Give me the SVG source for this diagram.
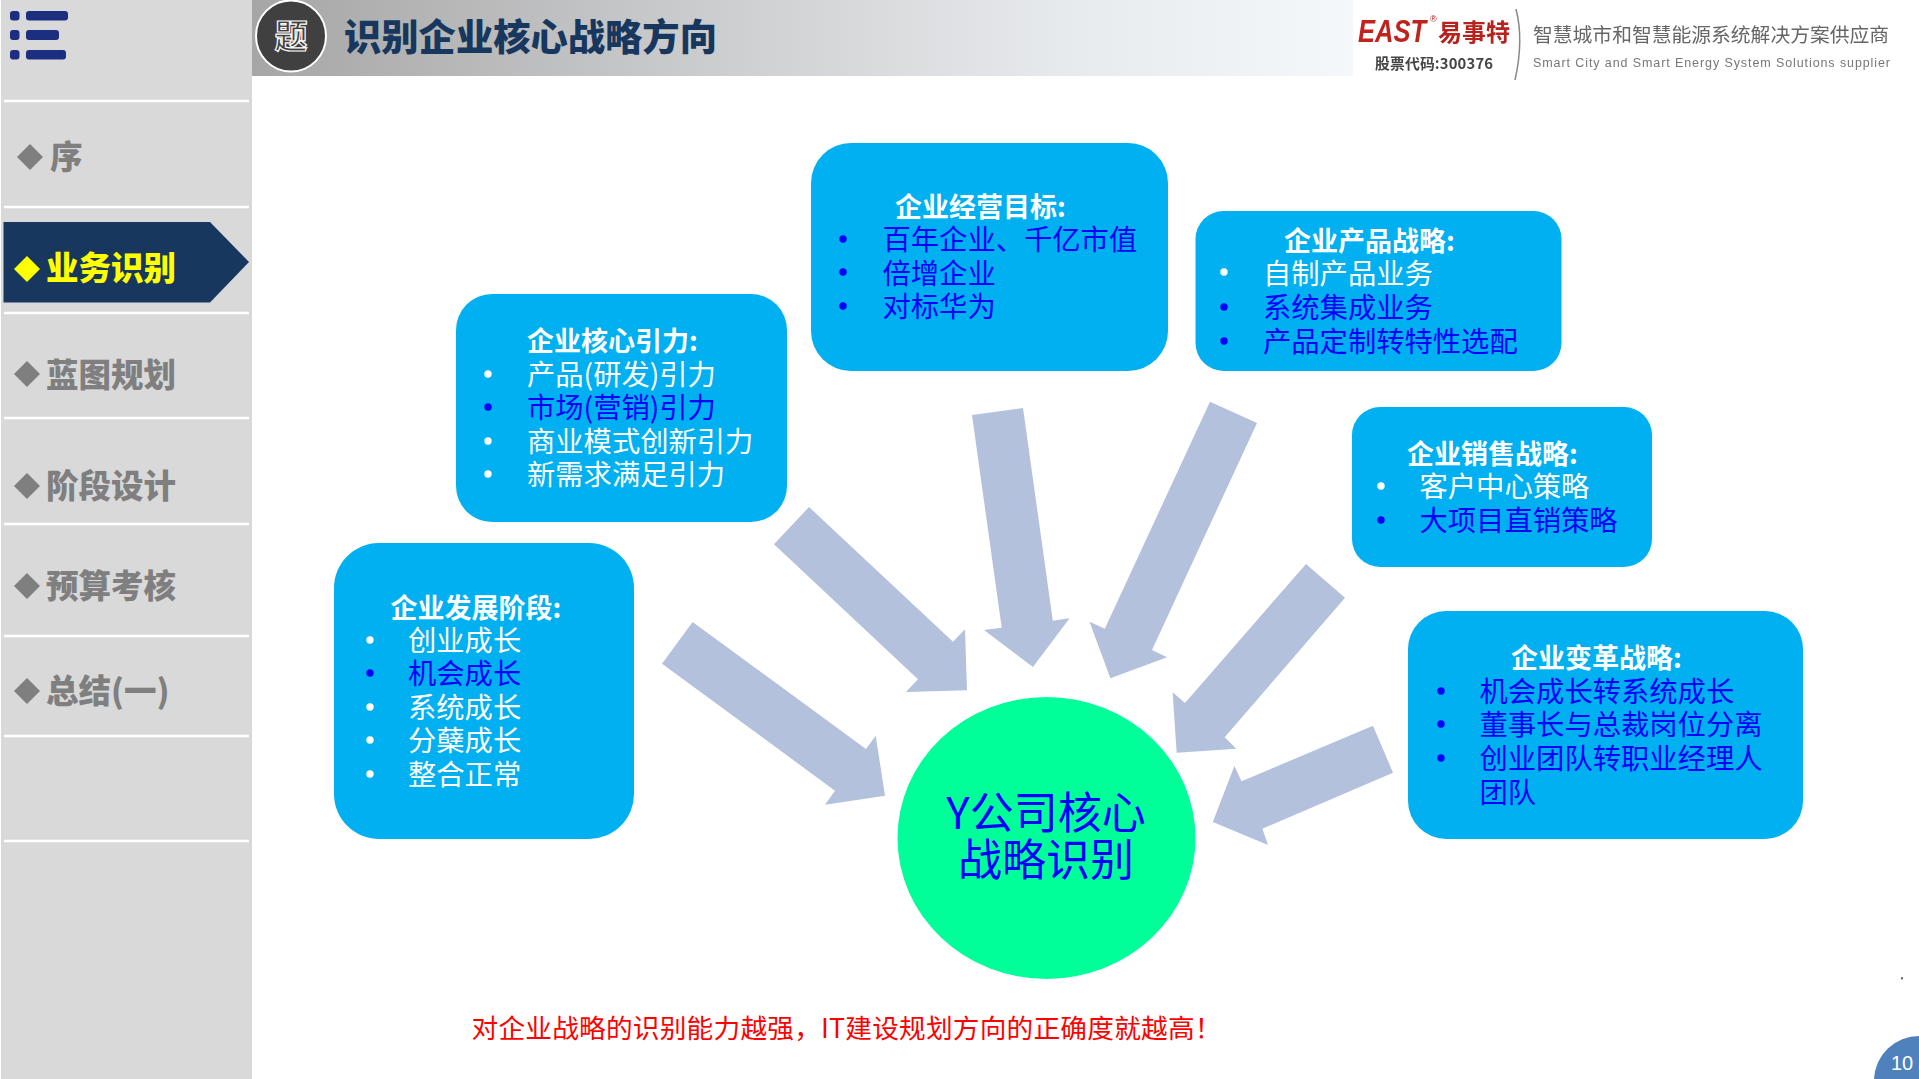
<svg xmlns="http://www.w3.org/2000/svg" width="1919" height="1079" viewBox="0 0 1919 1079">
<style>
text{font-family:"Noto Sans CJK SC","Noto Sans",sans-serif}
.box{fill:#00b0f0}
.t{font-size:27px;font-weight:700;fill:#fff}
.w{font-size:28.3px;fill:#fff}
.b{font-size:28.3px;fill:#00f}
.dw{fill:#fff}
.db{fill:#00f}
.nav{font-size:32.5px;font-weight:900;fill:#7f7f7f}
.dia{fill:#7f7f7f}
.sep{stroke:#fff;stroke-width:2.5}
.arrow{fill:#b3c1dc}
.menu{fill:#1c2e80}
</style>
<defs>
<linearGradient id="hdr" x1="0" x2="1" y1="0" y2="0"><stop offset="0" stop-color="#a6a6a6"/><stop offset=".46" stop-color="#d0d1d3"/><stop offset=".75" stop-color="#e8ebee"/><stop offset="1" stop-color="#f5f8fb"/></linearGradient>
<filter id="soft" x="-5%" y="-5%" width="110%" height="110%"><feGaussianBlur stdDeviation=".45"/></filter>
</defs>
<rect width="1919" height="1079" fill="#fff"/>
<g id="sidebar">
<rect x="1" width="251" height="1079" fill="#d9d9d9"/>
<g class="menu">
<rect x="10" y="11" width="9.5" height="9.5" rx="3"/><rect x="26" y="11" width="42" height="9.5" rx="3"/>
<rect x="10" y="30" width="9.5" height="10" rx="3"/><rect x="26" y="30" width="33" height="10" rx="3"/>
<rect x="10" y="50" width="9.5" height="9.5" rx="3"/><rect x="26" y="50" width="40" height="9.5" rx="3"/>
</g>
<g class="sep"><line x1="4" x2="249" y1="101" y2="101"/><line x1="4" x2="249" y1="207" y2="207"/><line x1="4" x2="249" y1="313" y2="313"/><line x1="4" x2="249" y1="418" y2="418"/><line x1="4" x2="249" y1="524" y2="524"/><line x1="4" x2="249" y1="636" y2="636"/><line x1="4" x2="249" y1="736" y2="736"/><line x1="4" x2="249" y1="841" y2="841"/></g>
<polygon points="3.5,222 210,222 249,262 210,302.5 3.5,302.5" fill="#17375e"/>
<polygon class="dia" points="30,144 43,157 30,170 17,157"/><text class="nav" x="50" y="169">序</text>
<polygon points="27,256 40,269 27,282 14,269" fill="#ff0"/><text class="nav" x="46" y="280" style="fill:#ff0">业务识别</text>
<polygon class="dia" points="27,361 40,374 27,387 14,374"/><text class="nav" x="46" y="387">蓝图规划</text>
<polygon class="dia" points="27,473 40,486 27,499 14,486"/><text class="nav" x="46" y="498">阶段设计</text>
<polygon class="dia" points="27,573 40,586 27,599 14,586"/><text class="nav" x="46" y="598">预算考核</text>
<polygon class="dia" points="27,678 40,691 27,704 14,691"/><text class="nav" x="46" y="703">总结(一)</text>
</g>
<g id="header">
<rect x="252" width="1101" height="76" fill="url(#hdr)"/>
<ellipse cx="291" cy="36" rx="35" ry="35.5" fill="#404040" stroke="#fff" stroke-width="2"/>
<text x="291" y="48" text-anchor="middle" font-size="33" font-weight="700" fill="#404040" stroke="#fff" stroke-width="1.2">题</text>
<text x="344" y="51" font-size="37.3" font-weight="900" fill="#17375e">识别企业核心战略方向</text>
</g>
<g id="logo" filter="url(#soft)">
<text x="1358" y="42" font-size="31" font-weight="900" font-style="italic" fill="#c0201c" textLength="68" lengthAdjust="spacingAndGlyphs" style="font-family:'Liberation Sans',sans-serif">EAST</text>
<text x="1430" y="22" font-size="9" fill="#c0201c" style="font-family:'Liberation Sans',sans-serif">®</text>
<text x="1438" y="41" font-size="24" font-weight="700" fill="#b8201c">易事特</text>
<text x="1375" y="69" font-size="14.8" font-weight="700" fill="#444" textLength="118">股票代码:300376</text>
<path d="M1516 9Q1524 40 1515 80" fill="none" stroke="#888" stroke-width="1.5"/>
<text x="1533" y="42" font-size="19.8" fill="#666">智慧城市和智慧能源系统解决方案供应商</text>
<text x="1533" y="67" font-size="12.5" fill="#777" textLength="357" style="font-family:'Liberation Sans',sans-serif">Smart City and Smart Energy System Solutions supplier</text>
</g>
<g id="connectors">
<polygon class="arrow" points="692.6,622 866,749 875.7,735.7 885,795.7 825,804.7 835,790.7 662,663.7"/>
<polygon class="arrow" points="809,507 953,641.7 965,629.3 967,690.3 906,692 918,679.3 774,544.3"/>
<polygon class="arrow" points="1023,408 1052.8,620.7 1069.6,618.3 1033,667 984,630 1001.7,627.7 972,415"/>
<polygon class="arrow" points="1257,423 1152,650 1167,657.3 1110.4,678.3 1089.5,621.7 1104.8,628.7 1210,401.7"/>
<polygon class="arrow" points="1345,597.7 1224.7,737.3 1236.4,748.7 1176.7,752.7 1172.6,692.3 1185,703 1306,564"/>
<polygon class="arrow" points="1393,772.7 1262.4,828.7 1268,845 1212.8,822 1234.4,766 1241.5,781.3 1373,725.7"/>
</g>
<g id="node-stage">
<rect class="box" x="334" y="543" width="300" height="296" rx="45"/>
<text class="t" x="390.5" y="617.5">企业发展阶段:</text>
<circle class="dw" cx="370" cy="640" r="3.7"/><text class="w" x="408" y="651">创业成长</text>
<circle class="db" cx="370" cy="673" r="3.7"/><text class="b" x="408" y="684">机会成长</text>
<circle class="dw" cx="370" cy="707" r="3.7"/><text class="w" x="408" y="718">系统成长</text>
<circle class="dw" cx="370" cy="740" r="3.7"/><text class="w" x="408" y="751">分蘖成长</text>
<circle class="dw" cx="370" cy="774" r="3.7"/><text class="w" x="408" y="785">整合正常</text>
</g>
<g id="node-core">
<rect class="box" x="456" y="294" width="331" height="228" rx="36"/>
<text class="t" x="527" y="351">企业核心引力:</text>
<circle class="dw" cx="488" cy="374" r="3.7"/><text class="w" x="527" y="385">产品(研发)引力</text>
<circle class="db" cx="488" cy="407" r="3.7"/><text class="b" x="527" y="418">市场(营销)引力</text>
<circle class="dw" cx="488" cy="441" r="3.7"/><text class="w" x="527" y="452">商业模式创新引力</text>
<circle class="dw" cx="488" cy="474" r="3.7"/><text class="w" x="527" y="485">新需求满足引力</text>
</g>
<g id="node-goal">
<rect class="box" x="811" y="143" width="357" height="228" rx="40"/>
<text class="t" x="895" y="217">企业经营目标:</text>
<circle class="db" cx="843" cy="239" r="3.7"/><text class="b" x="882.5" y="250">百年企业、千亿市值</text>
<circle class="db" cx="843" cy="272" r="3.7"/><text class="b" x="882.5" y="284">倍增企业</text>
<circle class="db" cx="843" cy="306" r="3.7"/><text class="b" x="882.5" y="317">对标华为</text>
</g>
<g id="node-product">
<rect class="box" x="1195.5" y="211" width="366" height="160" rx="28"/>
<text class="t" x="1284" y="251">企业产品战略:</text>
<circle class="dw" cx="1224" cy="272" r="3.7"/><text class="w" x="1263" y="284">自制产品业务</text>
<circle class="db" cx="1224" cy="307" r="3.7"/><text class="b" x="1263" y="318">系统集成业务</text>
<circle class="db" cx="1224" cy="341" r="3.7"/><text class="b" x="1263" y="352">产品定制转特性选配</text>
</g>
<g id="node-sales">
<rect class="box" x="1352" y="407" width="300" height="160" rx="28"/>
<text class="t" x="1407" y="464">企业销售战略:</text>
<circle class="dw" cx="1381" cy="486" r="3.7"/><text class="w" x="1419.5" y="497">客户中心策略</text>
<circle class="db" cx="1381" cy="520" r="3.7"/><text class="b" x="1419.5" y="531">大项目直销策略</text>
</g>
<g id="node-change">
<rect class="box" x="1408" y="611" width="395" height="228" rx="38"/>
<text class="t" x="1511" y="668">企业变革战略:</text>
<circle class="db" cx="1441" cy="691" r="3.7"/><text class="b" x="1479.5" y="702">机会成长转系统成长</text>
<circle class="db" cx="1441" cy="724" r="3.7"/><text class="b" x="1479.5" y="735">董事长与总裁岗位分离</text>
<circle class="db" cx="1441" cy="758" r="3.7"/><text class="b" x="1479.5" y="769">创业团队转职业经理人</text>
<text class="b" x="1479.5" y="803">团队</text>
</g>
<g id="node-center">
<ellipse cx="1046.5" cy="838" rx="149" ry="141" fill="#00ff99"/>
<text x="1046" y="829" text-anchor="middle" font-size="44" fill="#00f">Y公司核心</text>
<text x="1046" y="876" text-anchor="middle" font-size="44" fill="#00f">战略识别</text>
</g>
<g id="footer">
<text x="471.5" y="1038" font-size="26.7" fill="#f00" textLength="750">对企业战略的识别能力越强，IT建设规划方向的正确度就越高！</text>
<rect x="1901" y="977" width="2" height="2.5" fill="#777"/>
<path d="M1874 1079A45 45 0 0 1 1919 1036V1079Z" fill="#4f81bd"/>
<text x="1891" y="1070" font-size="20" fill="#fff" style="font-family:'Liberation Sans',sans-serif">10</text>
</g>
</svg>
